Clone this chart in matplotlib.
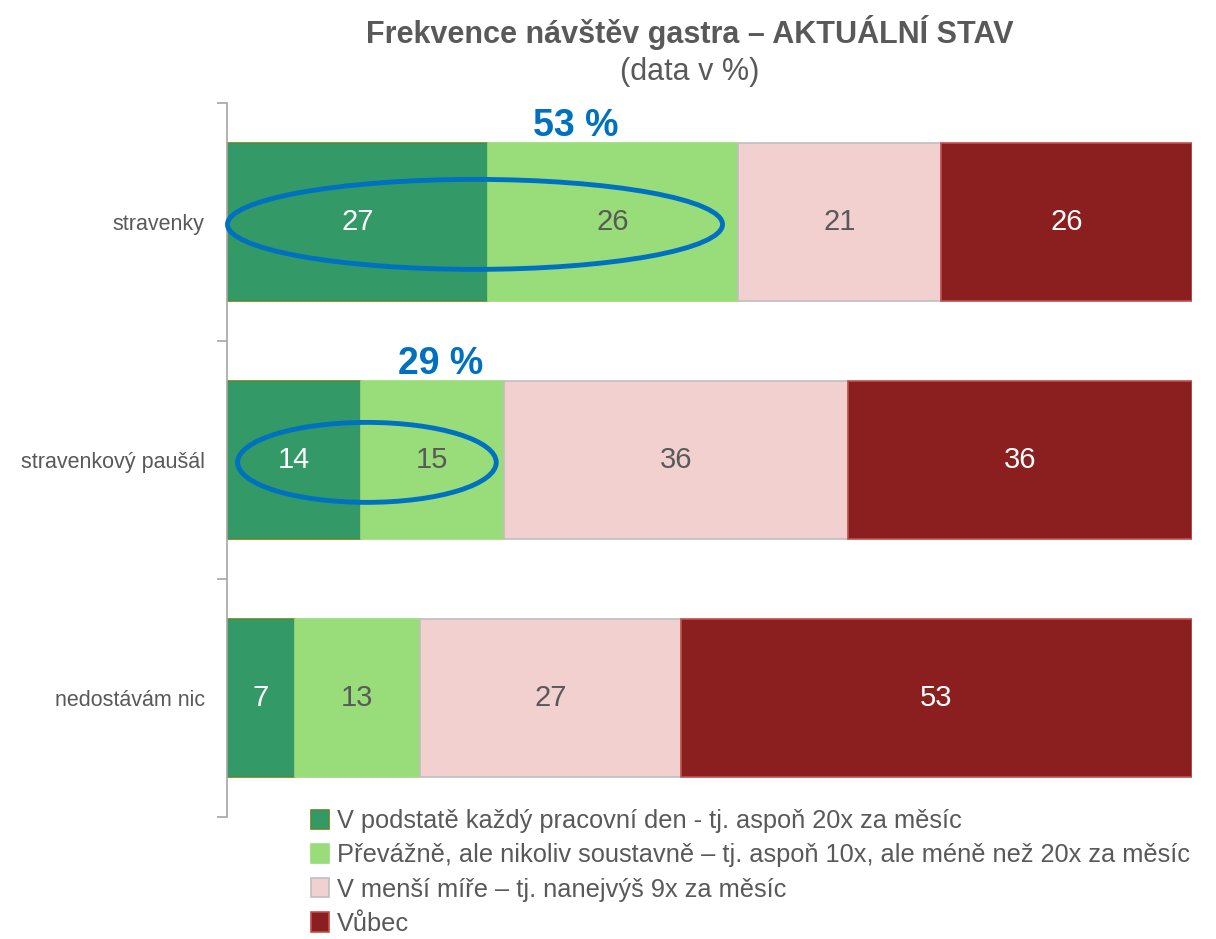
import numpy as np
import matplotlib
matplotlib.use('Agg')
import matplotlib.pyplot as plt
from matplotlib.patches import Ellipse

plt.rcParams['font.family'] = ['Liberation Sans', 'DejaVu Sans']

# ── data ─────────────────────────────────────────────
categories = ['stravenky', 'stravenkový paušál', 'nedostávám nic']
series_names = [
    'V podstatě každý pracovní den - tj. aspoň 20x za měsíc',
    'Převážně, ale nikoliv soustavně – tj. aspoň 10x, ale méně než 20x za měsíc',
    'V menší míře – tj. nanejvýš 9x za měsíc',
    'Vůbec',
]
kazdy_den = [27, 14, 7]
prevazne = [26, 15, 13]
mene = [21, 36, 27]
vubec = [26, 36, 53]

colors = ['#339966', '#99DC7A', '#F2D0D0', '#8B1E1E']
edges = ['#5A8A2A', '#99DC7A', '#BFBFBF', '#C0504D']
txt_colors = ['white', '#595959', '#595959', 'white']
GRAY = '#595959'
BLUE = '#0070C0'

vals = np.array([kazdy_den, prevazne, mene, vubec], dtype=float)
shares = vals / vals.sum(axis=0) * 100

fig = plt.figure(figsize=(12.16, 9.39), dpi=100)
ax = fig.add_axes([227/1216, 1-817/939, (1192-227)/1216, 714/939])

y = np.arange(len(categories))
left = np.zeros(len(categories))
for i in range(4):
    ax.barh(y, shares[i], left=left, height=0.667, color=colors[i],
            edgecolor=edges[i], linewidth=1.2, label=series_names[i])
    for j in range(len(categories)):
        ax.text(left[j] + shares[i][j] / 2, y[j], f"{int(vals[i][j])}",
                ha='center', va='center', fontsize=21, color=txt_colors[i])
    left += shares[i]

ax.set_xlim(0, 100)
ax.set_ylim(2.5, -0.5)
ax.set_xticks([])
ax.set_yticks([-0.5, 0.5, 1.5, 2.5])
ax.set_yticklabels([])
ax.set_yticks(y, minor=True)
ax.set_yticklabels(categories, minor=True, fontsize=15.5, color=GRAY)
ax.tick_params(axis='y', which='major', length=7, color='#A6A6A6', width=1.2)
ax.tick_params(axis='y', which='minor', length=0, pad=16)
for s in ['top', 'right', 'bottom']:
    ax.spines[s].set_visible(False)
ax.spines['left'].set_color('#A6A6A6')
ax.spines['left'].set_linewidth(1.2)

# zvýraznění součtu prvních dvou kategorií (elipsa + popisek)
highlight_rows = [0, 1]
ellipse_x = [25.7, 14.5]
ellipse_w = [51.3, 26.8]
ellipse_h = [0.378, 0.336]
label_x = [36.1, 22.1]
for k, row in enumerate(highlight_rows):
    ax.add_patch(Ellipse((ellipse_x[k], row + 0.01), ellipse_w[k], ellipse_h[k],
                         fill=False, edgecolor=BLUE, linewidth=3.5, clip_on=False, zorder=5))
    ax.text(label_x[k], row - 0.405, f"{kazdy_den[row] + prevazne[row]} %",
            ha='center', va='center', fontsize=27, fontweight='bold', color=BLUE)

fig.text(690/1216, 1-32/939, 'Frekvence návštěv gastra – AKTUÁLNÍ STAV',
         ha='center', va='center', fontsize=22, fontweight='bold', color=GRAY)
fig.text(690/1216, 1-72/939, '(data v %)', ha='center', va='center', fontsize=22, color=GRAY)

fig.legend(loc='upper left', bbox_to_anchor=(301/1216, 1-799/939), frameon=False,
           fontsize=18.3, labelcolor=GRAY, handlelength=0.7, handleheight=0.8,
           handletextpad=0.3, labelspacing=0.4, borderaxespad=0)

fig.savefig('out.png', dpi=100)
